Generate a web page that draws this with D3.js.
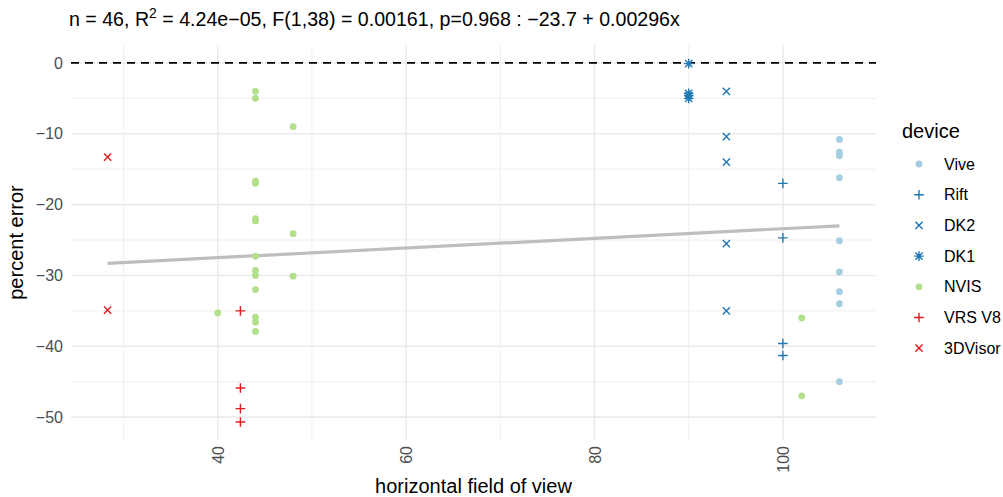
<!DOCTYPE html>
<html>
<head>
<meta charset="utf-8">
<script src="https://cdn.jsdelivr.net/npm/d3@7"></script>
<style>
  body { margin: 0; background: #fff; }
  svg { font-family: "Liberation Sans", Arial, sans-serif; }
</style>
</head>
<body>
<svg width="1003" height="497"></svg>
<script>
// devices, in legend order
var devices = ["Vive", "Rift", "DK2", "DK1", "NVIS", "VRS V8", "3DVisor"];
var deviceColors = ["#a6cee3", "#1f78b4", "#1f78b4", "#1f78b4", "#b2df8a", "#e31a1c", "#e31a1c"];
var deviceShapes = ["dot", "plus", "cross", "star", "dot", "plus", "cross"];

// [horizontal field of view, percent error] per device
var vive = [[106, -10.8], [106, -12.6], [106, -13.1], [106, -16.2], [106, -25.1],
  [106, -29.5], [106, -32.3], [106, -34.0], [106, -45.0]];
var rift = [[100, -17.0], [100, -24.7], [100, -39.6], [100, -41.3]];
var dk2 = [[94, -4.0], [94, -10.4], [94, -14.0], [94, -25.5], [94, -35.0]];
var dk1 = [[90, -0.1], [90, -4.3], [90, -4.6], [90, -5.0]];
var nvis = [[44, -4.0], [44, -5.0], [48, -9.0], [44, -16.7], [44, -17.0], [44, -22.0],
  [44, -22.3], [48, -24.1], [44, -27.3], [44, -29.3], [44, -30.0], [48, -30.1],
  [44, -32.0], [40, -35.3], [44, -35.9], [44, -36.6], [44, -37.9], [102, -36.0], [102, -47.0]];
var vrsV8 = [[42.4, -35.0], [42.4, -45.9], [42.4, -48.8], [42.4, -50.7]];
var visor3d = [[28.3, -13.3], [28.3, -34.9]];
var seriesPoints = [vive, rift, dk2, dk1, nvis, vrsV8, visor3d];

// fitted line as drawn (intercept, slope)
var fitCoef = [-30.22, 0.0682];

var xTicks = [40, 60, 80, 100];
var xMinor = [30, 50, 70, 90];
var yTicks = [0, -10, -20, -30, -40, -50];
var yMinor = [-5, -15, -25, -35, -45];

var svg = d3.select("svg"),
  width = +svg.attr("width"),
  height = +svg.attr("height");

var margin = { left: 71, right: 127, top: 45, bottom: 57 };

// all points flat, with device index
var allPoints = [];
seriesPoints.forEach(function (pts, i) {
  pts.forEach(function (p) { allPoints.push({ x: p[0], y: p[1], dev: i }); });
});

// ggplot-like 5% expansion
function expand(ext) {
  var pad = (ext[1] - ext[0]) * 0.05;
  return [ext[0] - pad, ext[1] + pad];
}
var xExt = d3.extent(allPoints, function (d) { return d.x; });
var yExt = d3.extent(allPoints.map(function (d) { return d.y; }).concat([0]));

var x = d3.scaleLinear().domain(expand(xExt)).range([margin.left, width - margin.right]);
var y = d3.scaleLinear().domain(expand(yExt)).range([height - margin.bottom, margin.top]);

var grid = svg.append("g");
// minor grid
grid.selectAll(".xminor").data(xMinor).enter().append("line")
  .attr("x1", function (d) { return x(d); }).attr("x2", function (d) { return x(d); })
  .attr("y1", y.range()[0]).attr("y2", y.range()[1])
  .attr("stroke", "#ebebeb").attr("stroke-width", 0.8);
grid.selectAll(".yminor").data(yMinor).enter().append("line")
  .attr("y1", function (d) { return y(d); }).attr("y2", function (d) { return y(d); })
  .attr("x1", x.range()[0]).attr("x2", x.range()[1])
  .attr("stroke", "#ebebeb").attr("stroke-width", 0.8);
// major grid
grid.selectAll(".xmajor").data(xTicks).enter().append("line")
  .attr("x1", function (d) { return x(d); }).attr("x2", function (d) { return x(d); })
  .attr("y1", y.range()[0]).attr("y2", y.range()[1])
  .attr("stroke", "#ebebeb").attr("stroke-width", 1.6);
grid.selectAll(".ymajor").data(yTicks).enter().append("line")
  .attr("y1", function (d) { return y(d); }).attr("y2", function (d) { return y(d); })
  .attr("x1", x.range()[0]).attr("x2", x.range()[1])
  .attr("stroke", "#ebebeb").attr("stroke-width", 1.6);

// axes (labels only)
var fmt = function (d) { return d3.format("d")(d).replace("-", "\u2212"); };
var xAxis = svg.append("g")
  .attr("transform", "translate(0," + (y.range()[0] + 6) + ")")
  .call(d3.axisBottom(x).tickValues(xTicks).tickSize(0).tickPadding(0).tickFormat(fmt));
xAxis.select(".domain").remove();
xAxis.selectAll("text")
  .attr("transform", "rotate(-90)")
  .attr("x", 0).attr("y", 0).attr("dy", "0.35em")
  .attr("text-anchor", "end")
  .attr("fill", "#4d4d4d").style("font-size", "16px")
  .style("font-family", "Liberation Sans, Arial, sans-serif");

var yAxis = svg.append("g")
  .attr("transform", "translate(" + (x.range()[0] - 8) + ",0)")
  .call(d3.axisLeft(y).tickValues(yTicks).tickSize(0).tickPadding(0).tickFormat(fmt));
yAxis.select(".domain").remove();
yAxis.selectAll("text")
  .attr("fill", "#4d4d4d").style("font-size", "16px")
  .style("font-family", "Liberation Sans, Arial, sans-serif");

// dashed zero line
svg.append("line")
  .attr("x1", x.range()[0]).attr("x2", x.range()[1])
  .attr("y1", y(0)).attr("y2", y(0))
  .attr("stroke", "#000").attr("stroke-width", 1.8)
  .attr("stroke-dasharray", "8,6");

// fit line
svg.append("line")
  .attr("x1", x(xExt[0])).attr("x2", x(xExt[1]))
  .attr("y1", y(fitCoef[0] + fitCoef[1] * xExt[0]))
  .attr("y2", y(fitCoef[0] + fitCoef[1] * xExt[1]))
  .attr("stroke", "#bebebe").attr("stroke-width", 3.2);

// shapes
function drawShape(g, shape, color) {
  var r = 4.8;
  if (shape === "dot") {
    g.append("circle").attr("r", 3.4).attr("fill", color);
    return;
  }
  var d = "";
  if (shape === "plus" || shape === "star") {
    d += "M" + (-r) + ",0H" + r + "M0," + (-r) + "V" + r;
  }
  if (shape === "cross" || shape === "star") {
    var c = r * 0.75;
    d += "M" + (-c) + "," + (-c) + "L" + c + "," + c + "M" + (-c) + "," + c + "L" + c + "," + (-c);
  }
  g.append("path").attr("d", d).attr("fill", "none")
    .attr("stroke", color).attr("stroke-width", 1.4);
}

svg.append("g").selectAll("g")
  .data(allPoints)
  .enter()
  .append("g")
  .attr("transform", function (d) { return "translate(" + x(d.x) + "," + y(d.y) + ")"; })
  .each(function (d) { drawShape(d3.select(this), deviceShapes[d.dev], deviceColors[d.dev]); });

// title
svg.append("text")
  .attr("x", 69).attr("y", 26)
  .style("font-size", "19.6px").attr("fill", "#000")
  .html("n = 46, R<tspan dy='-8' style='font-size:14px'>2</tspan><tspan dy='8'> = 4.24e\u221205, F(1,38) = 0.00161, p=0.968 : \u221223.7 + 0.00296x</tspan>");

// axis titles
svg.append("text")
  .attr("x", (x.range()[0] + x.range()[1]) / 2).attr("y", 493)
  .attr("text-anchor", "middle").style("font-size", "20px")
  .text("horizontal field of view");
svg.append("text")
  .attr("transform", "translate(23," + (y.range()[0] + y.range()[1]) / 2 + ") rotate(-90)")
  .attr("text-anchor", "middle").style("font-size", "20px")
  .text("percent error");

// legend
var legend = svg.append("g").attr("transform", "translate(902,0)");
legend.append("text").attr("x", 0).attr("y", 138)
  .style("font-size", "20px").text("device");
var items = legend.selectAll(".item").data(devices).enter().append("g")
  .attr("transform", function (d, i) { return "translate(0," + (164 + i * 30.7) + ")"; });
items.each(function (d, i) {
  var k = d3.select(this).append("g").attr("transform", "translate(17,0)");
  drawShape(k, deviceShapes[i], deviceColors[i]);
});
items.append("text").attr("x", 42).attr("dy", "0.35em")
  .style("font-size", "16px").text(function (d) { return d; });
</script>
</body>
</html>
